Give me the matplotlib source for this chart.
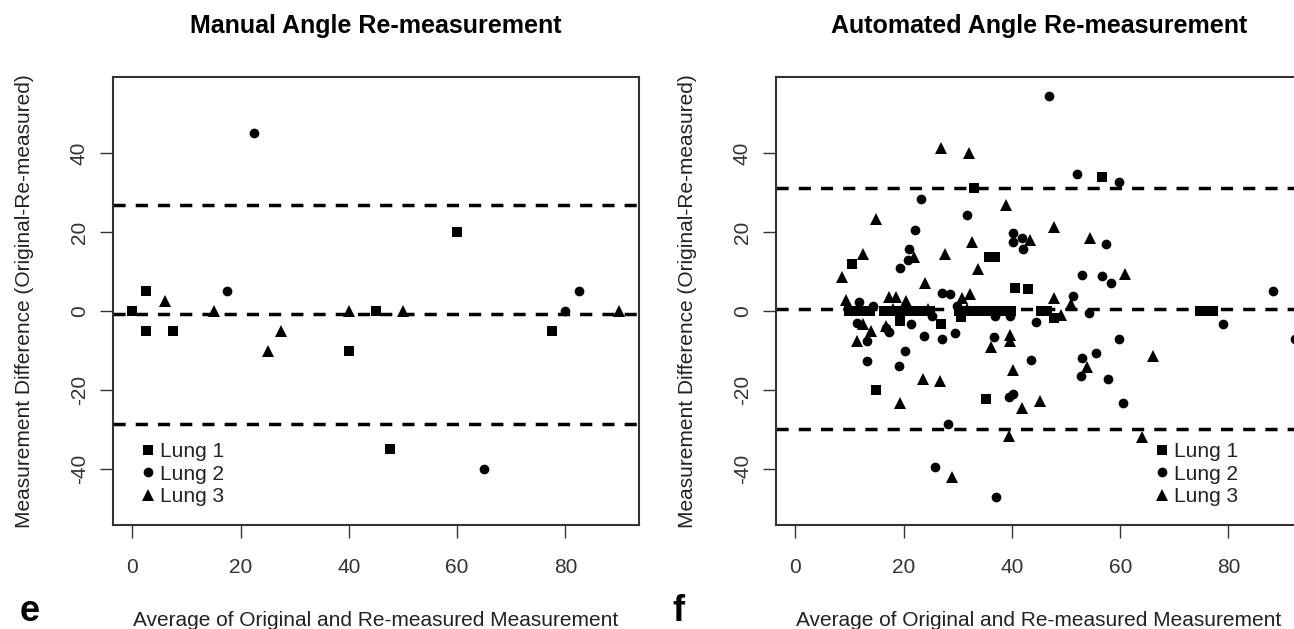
import numpy as np
import matplotlib.pyplot as plt

plt.rcParams['font.family'] = ['Liberation Sans', 'DejaVu Sans']
plt.rcParams['axes.unicode_minus'] = False

# ---- Manual angle re-measurement (panel e) ----
man_l1_x = [0, 2.5, 2.5, 7.5, 40, 45, 60, 47.5, 77.5]
man_l1_y = [0, 5, -5, -5, -10, 0, 20, -35, -5]
man_l2_x = [22.5, 17.5, 65, 80, 82.5]
man_l2_y = [45, 5, -40, 0, 5]
man_l3_x = [6, 15, 25, 27.5, 40, 50, 90]
man_l3_y = [2.5, 0, -10, -5, 0, 0, 0]
man_limits = [26.9, -0.8, -28.7]   # upper LoA, mean difference, lower LoA

# ---- Automated angle re-measurement (panel f) ----
auto_l1_x = [10.5, 14.8, 33.0, 56.6, 35.7, 36.8, 40.5, 42.9, 35.2, 26.8, 19.4, 30.5, 47.7,
             9.8, 10.6, 11.4, 12.2, 13.0, 13.8, 16.4, 17.4, 19.2, 20.0, 20.8, 21.6, 22.4,
             23.2, 24.0, 24.8, 30.2, 31.0, 31.8, 32.6, 34.2, 35.0, 35.8, 36.6, 37.4, 38.2,
             39.0, 39.8, 45.4, 46.4, 74.8, 75.6, 76.4, 77.2]
auto_l1_y = [12.0, -20.0, 31.2, 33.9, 13.8, 13.8, 5.8, 5.5, -22.3, -3.3, -2.4, -1.5, -1.8,
             0, 0, 0, 0, 0, 0, 0, 0, 0, 0, 0, 0, 0,
             0, 0, 0, 0, 0, 0, 0, 0, 0, 0, 0, 0, 0,
             0, 0, 0, 0, 0, 0, 0, 0]
auto_l2_x = [46.8, 52.0, 59.7, 23.2, 31.6, 22.0, 40.2, 40.2, 41.8, 42.1, 20.9, 20.8, 19.3,
             57.3, 53.0, 56.6, 58.3, 88.3, 27.1, 28.5, 51.2, 11.7, 14.4, 29.8, 54.2, 79.0,
             44.4, 25.2, 36.9, 39.7, 11.4, 21.4, 17.3, 16.7, 13.2, 23.7, 27.1, 29.5, 36.7,
             59.7, 13.2, 20.3, 43.6, 19.2, 53.0, 55.5, 52.7, 57.8, 60.6, 39.4, 40.2, 28.2,
             25.7, 37.0, 92.3]
auto_l2_y = [54.4, 34.8, 32.7, 28.4, 24.4, 20.5, 19.9, 17.4, 18.6, 15.6, 15.6, 13.0, 10.8,
             16.9, 9.2, 8.8, 7.1, 5.0, 4.7, 4.3, 3.7, 2.4, 1.3, 1.4, -0.5, -3.4,
             -2.8, -1.2, -1.3, -1.2, -3.0, -3.3, -5.2, -4.2, -7.7, -6.3, -7.0, -5.5, -6.6,
             -7.0, -12.6, -10.1, -12.3, -14.0, -11.9, -10.6, -16.5, -17.2, -23.4, -21.8, -21.0, -28.7,
             -39.5, -47.0, -7.0]
auto_l3_x = [26.8, 32.0, 38.9, 14.8, 47.8, 54.4, 43.3, 32.6, 12.5, 27.7, 21.9, 33.7, 8.6,
             60.9, 23.9, 32.3, 47.7, 9.4, 17.2, 18.5, 20.5, 50.9, 49.0, 12.5, 14.0, 11.3,
             16.7, 36.1, 39.7, 39.7, 66.0, 53.9, 40.2, 23.5, 26.7, 19.3, 45.1, 41.9, 39.4,
             64.0, 29.0, 30.8, 31.6, 10.0, 18.0, 24.5]
auto_l3_y = [41.3, 40.0, 26.8, 23.4, 21.2, 18.6, 18.1, 17.5, 14.5, 14.5, 13.7, 10.6, 8.6,
             9.5, 7.2, 4.2, 3.3, 2.7, 3.5, 3.5, 2.6, 1.7, -1.0, -3.2, -5.0, -7.7,
             -3.7, -9.0, -6.0, -7.5, -11.5, -14.2, -15.0, -17.3, -17.8, -23.3, -22.9, -24.6, -31.6,
             -32.0, -42.1, 3.3, 0.5, 0.5, 0.5, 0.5]
auto_limits = [31.1, 0.6, -30.0]

lung_labels = ['Lung 1', 'Lung 2', 'Lung 3']
x_ticks = [0, 20, 40, 60, 80]
y_ticks = [-40, -20, 0, 20, 40]

fig = plt.figure(figsize=(12.94, 6.29), dpi=100)
ax1 = fig.add_axes([0.0873, 0.1653, 0.4065, 0.7123])
ax2 = fig.add_axes([0.5997, 0.1653, 0.4065, 0.7123])


def bland_altman(ax, groups, limits, title, legend_x):
    markers = [('s', 7), ('o', 7), ('^', 8)]
    for (xs, ys), (m, ms), lab in zip(groups, markers, lung_labels):
        ax.plot(xs, ys, linestyle='none', marker=m, markersize=ms,
                color='black', markeredgewidth=0, label=lab)
    for v in limits:
        ax.axhline(v, color='black', linewidth=2.5, dashes=(3.5, 2.9))
    ax.set_xlim(-3.6, 93.6)
    ax.set_ylim(-54.2, 59.3)
    ax.set_xticks(x_ticks)
    ax.set_yticks(y_ticks)
    ax.tick_params(direction='out', length=9.4, width=1.0, color='#333333',
                   labelsize=15, labelcolor='#333333')
    ax.tick_params(axis='x', pad=14)
    ax.tick_params(axis='y', pad=8, labelrotation=90)
    for lbl in ax.get_yticklabels():
        lbl.set_verticalalignment('center')
    for s in ax.spines.values():
        s.set_linewidth(1.5)
        s.set_color('#333333')
    ax.set_title(title, fontsize=18, fontweight='bold', y=1.0975, pad=0)
    ax.set_xlabel('Average of Original and Re-measured Measurement',
                  fontsize=15, color='#222222', va='baseline')
    ax.xaxis.set_label_coords(0.5, -0.2254)
    ax.set_ylabel('Measurement Difference (Original-Re-measured)',
                  fontsize=15, color='#222222', va='center')
    ax.yaxis.set_label_coords(-0.169, 0.5)
    ax.legend(loc='upper left', bbox_to_anchor=(legend_x, 0.185), frameon=False,
              fontsize=15, borderpad=0, borderaxespad=0, handlelength=0.6,
              handletextpad=0.28, labelspacing=0.17, labelcolor='#222222')


bland_altman(ax1, [(man_l1_x, man_l1_y), (man_l2_x, man_l2_y), (man_l3_x, man_l3_y)],
             man_limits, 'Manual Angle Re-measurement', 0.0548)
bland_altman(ax2, [(auto_l1_x, auto_l1_y), (auto_l2_x, auto_l2_y), (auto_l3_x, auto_l3_y)],
             auto_limits, 'Automated Angle Re-measurement', 0.722)

# panel letters
fig.text(30 / 1294, 8 / 629, 'e', fontsize=26, fontweight='bold', ha='center', va='baseline')
fig.text(678 / 1294, 8 / 629, 'f', fontsize=26, fontweight='bold', ha='center', va='baseline')

fig.savefig('out.png', dpi=100)
